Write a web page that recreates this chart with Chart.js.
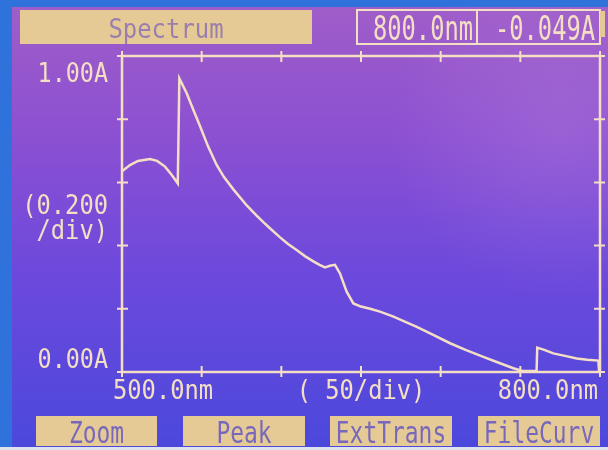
<!DOCTYPE html>
<html lang="en">
<head>
    <meta charset="UTF-8">
    <title>Spectrum</title>
    <script src="https://cdn.jsdelivr.net/npm/chart.js"></script>
    <style>
        html, body { margin: 0; padding: 0; background: #dfe3ec; }
        canvas { display: block; }
    </style>
</head>
<body>
    <canvas id="spectrum" width="608" height="450"></canvas>

    <script>
        // Spectrum (nm, absorbance A)
        const wavelengths = [500, 505, 510, 517.6, 522, 527, 531, 535, 536, 540.6, 545, 549, 554, 559.4, 564, 569.9,
            578.3, 584.5, 588.7, 593, 599.2, 604, 609.6, 615, 620.1, 624, 627.4, 630.5, 633.7, 636.8, 641, 645.2,
            650, 655.7, 661.9, 670, 685, 695, 705.9, 716, 726.8, 736, 745.6, 750.9, 755, 760.2, 760.6, 765, 770.7,
            778, 785.4, 792, 799, 800];
        const absorbance = [0.635, 0.655, 0.668, 0.674, 0.668, 0.65, 0.625, 0.597, 0.929, 0.882, 0.827, 0.778, 0.714, 0.655, 0.617, 0.578,
            0.527, 0.495, 0.474, 0.454, 0.426, 0.406, 0.386, 0.366, 0.35, 0.339, 0.331, 0.336, 0.339, 0.312, 0.254, 0.217,
            0.207, 0.2, 0.191, 0.176, 0.143, 0.118, 0.091, 0.069, 0.048, 0.03, 0.012, 0.004, 0.003, 0.003, 0.077, 0.07, 0.059,
            0.051, 0.043, 0.039, 0.036, -0.049];

        const xTicks = [500, 550, 600, 650, 700, 750, 800];
        const xTickLabels = { 500: '500.0nm', 650: '( 50/div)', 800: '800.0nm' };
        const yTicks = [0, 0.2, 0.4, 0.6, 0.8, 1.0];
        const yTopLabel = '1.00A';
        const yBottomLabel = '0.00A';
        const yScaleLabel = ['(0.200', '/div)'];

        const headerTitle = 'Spectrum';
        const cursorWavelength = '800.0nm';
        const cursorValue = '-0.049A';
        const buttons = ['Zoom', 'Peak', 'ExtTrans', 'FileCurv'];

        const CREAM = '#f4dfc4';
        const BEIGE = '#e6ca96';
        const INK = '#7868bc';
        const FONT = '"DejaVu Sans Mono", "Liberation Mono", monospace';

        const points = wavelengths.map((w, i) => ({ x: w, y: absorbance[i] }));

        // lcd glyphs are tall and narrow, so squeeze horizontally
        function lcdText(ctx, str, x, y, size, sx, align, color) {
            ctx.save();
            ctx.translate(x, y);
            ctx.scale(sx, 1);
            ctx.font = size + 'px ' + FONT;
            ctx.textAlign = align;
            ctx.textBaseline = 'alphabetic';
            ctx.fillStyle = color;
            ctx.fillText(str, 0, 0);
            ctx.restore();
        }

        const screenPlugin = {
            id: 'lcdScreen',
            beforeDraw(chart) {
                const ctx = chart.ctx;
                const w = chart.width, h = chart.height;
                ctx.save();
                const g = ctx.createLinearGradient(0, 0, 0, h);
                g.addColorStop(0, '#a05ec8');
                g.addColorStop(0.3, '#8c50d2');
                g.addColorStop(0.6, '#6d49dc');
                g.addColorStop(1, '#4b48dc');
                ctx.fillStyle = g;
                ctx.fillRect(0, 0, w, h);
                // faint glare on the right
                const r = ctx.createRadialGradient(560, 130, 5, 560, 130, 170);
                r.addColorStop(0, 'rgba(215,170,230,0.18)');
                r.addColorStop(1, 'rgba(215,170,230,0)');
                ctx.fillStyle = r;
                ctx.fillRect(0, 0, w, h);
                // bezel edges
                ctx.fillStyle = '#2f72dc';
                ctx.fillRect(0, 0, 12, h);
                ctx.fillRect(0, 0, w, 7);
                ctx.fillStyle = '#dde2ec';
                ctx.fillRect(0, 447, w, 3);
                ctx.restore();
            },
            afterDatasetsDraw(chart) {
                const ctx = chart.ctx;
                const { left, right, top, bottom } = chart.chartArea;
                const xs = chart.scales.x, ys = chart.scales.y;
                ctx.save();
                ctx.strokeStyle = CREAM;
                ctx.lineWidth = 2.5;
                ctx.strokeRect(left, top, right - left, bottom - top);
                ctx.lineWidth = 2;
                ctx.beginPath();
                xTicks.forEach(v => {
                    const px = xs.getPixelForValue(v);
                    ctx.moveTo(px, top - 5); ctx.lineTo(px, top + 6);
                    ctx.moveTo(px, bottom - 6); ctx.lineTo(px, bottom + 5);
                });
                yTicks.forEach(v => {
                    const py = ys.getPixelForValue(v);
                    ctx.moveTo(left - 5, py); ctx.lineTo(left + 6, py);
                    ctx.moveTo(right - 6, py); ctx.lineTo(right + 5, py);
                });
                ctx.stroke();

                // axis labels
                const base = bottom + 27;
                Object.keys(xTickLabels).forEach(k => {
                    const v = Number(k);
                    const px = xs.getPixelForValue(v);
                    let align = 'center', x = px;
                    if (v === xs.min) { align = 'left'; x = px - 9; }
                    if (v === xs.max) { align = 'right'; x = px - 2; }
                    lcdText(ctx, xTickLabels[k], x, base, 27, 0.88, align, CREAM);
                });
                const lx = left - 14;
                lcdText(ctx, yTopLabel, lx, ys.getPixelForValue(1) + 26, 26, 0.9, 'right', CREAM);
                lcdText(ctx, yBottomLabel, lx, ys.getPixelForValue(0) - 4, 26, 0.9, 'right', CREAM);
                const mid = ys.getPixelForValue(0.5);
                lcdText(ctx, yScaleLabel[0], lx, mid + 0, 27, 0.88, 'right', CREAM);
                lcdText(ctx, yScaleLabel[1], lx, mid + 25, 27, 0.88, 'right', CREAM);

                // header
                ctx.fillStyle = BEIGE;
                ctx.fillRect(20, 10, 292, 34);
                lcdText(ctx, headerTitle, 166, 38, 26, 0.92, 'center', '#9a7fae');
                ctx.strokeStyle = CREAM;
                ctx.lineWidth = 2;
                ctx.strokeRect(357, 10, 120, 34);
                ctx.strokeRect(477, 10, 123, 34);
                lcdText(ctx, cursorWavelength, 423, 40, 33, 0.72, 'center', CREAM);
                lcdText(ctx, cursorValue, 545, 40, 33, 0.72, 'center', CREAM);
                ctx.fillStyle = BEIGE;
                ctx.fillRect(600, 11, 5, 26);

                // soft keys
                const keys = [[36, 121], [183, 122], [330, 122], [478, 122]];
                keys.forEach((k, i) => {
                    ctx.fillStyle = BEIGE;
                    ctx.fillRect(k[0], 416, k[1], 30);
                    lcdText(ctx, buttons[i], k[0] + k[1] / 2, 443, 31, 0.74, 'center', INK);
                });
                ctx.restore();
            }
        };

        new Chart(document.getElementById('spectrum').getContext('2d'), {
            type: 'line',
            data: {
                datasets: [{
                    data: points,
                    borderColor: CREAM,
                    borderWidth: 2.5,
                    pointRadius: 0,
                    tension: 0,
                    fill: false
                }]
            },
            options: {
                responsive: false,
                animation: false,
                devicePixelRatio: 1,
                layout: { padding: { left: 122, top: 56, right: 8, bottom: 78 } },
                plugins: { legend: { display: false }, tooltip: { enabled: false } },
                scales: {
                    x: { type: 'linear', min: 500, max: 800, display: false },
                    y: { min: 0, max: 1, display: false }
                }
            },
            plugins: [screenPlugin]
        });
    </script>
</body>
</html>
